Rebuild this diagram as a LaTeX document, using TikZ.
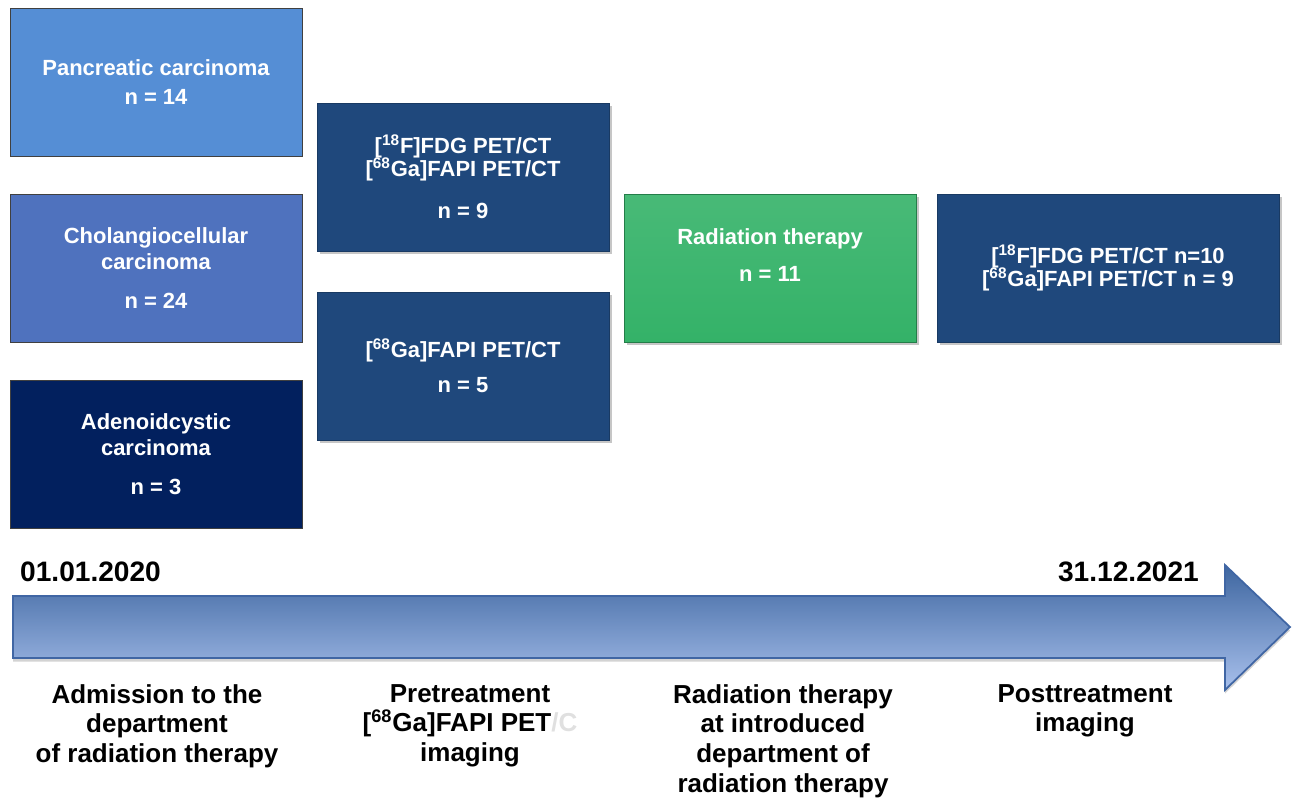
\documentclass[tikz,border=0pt]{standalone}
\usepackage{fontspec}
\setmainfont{Liberation Sans}
\usetikzlibrary{positioning}
\usetikzlibrary{shadows}

\definecolor{pancblue}{RGB}{85,142,213}
\definecolor{cholblue}{RGB}{79,114,190}
\definecolor{adenblue}{RGB}{2,32,94}
\definecolor{petblue}{RGB}{31,72,124}
\definecolor{rtgreen}{RGB}{52,178,104}
\definecolor{arrowtop}{RGB}{62,102,160}
\definecolor{arrowbot}{RGB}{168,192,236}
\definecolor{arrowline}{RGB}{64,102,164}

\tikzset{
  box/.style={rectangle,draw=black!75,line width=0.5pt,text=white,align=center,
    minimum width=5.84cm,minimum height=2.96cm,inner sep=0pt,
    font=\fontsize{12.5}{15}\selectfont\bfseries},
  petbox/.style={box,fill=petblue,draw=petblue!80!black,
    drop shadow={shadow xshift=1.5pt,shadow yshift=-1.5pt,opacity=0.45}},
  phase/.style={anchor=north,align=center,font=\fontsize{14.8}{17}\selectfont\bfseries},
  date/.style={font=\fontsize{16}{19}\selectfont\bfseries}
}

\begin{document}
\begin{tikzpicture}[x=0.02cm,y=-0.02cm]
\useasboundingbox (0,0) rectangle (1295,798);

\node[box,fill=pancblue](panc) at (156,82){Pancreatic carcinoma\\[2pt]n = 14};
\node[box,fill=cholblue](chol) at (156,268){Cholangiocellular\\carcinoma\\[7pt]n = 24};
\node[box,fill=adenblue](aden) at (156,454){Adenoidcystic\\carcinoma\\[7pt]n = 3};

\node[petbox](both) at (463,177){[\textsuperscript{18}F]FDG PET/CT\\[-2pt][\textsuperscript{68}Ga]FAPI PET/CT\\[9pt]n = 9};
\node[petbox](fapi) at (463,366){[\textsuperscript{68}Ga]FAPI PET/CT\\[5pt]n = 5};
\node[box,top color=rtgreen!90!white,bottom color=rtgreen,draw=rtgreen!70!black,
  drop shadow={shadow xshift=1.5pt,shadow yshift=-1.5pt,opacity=0.45}](rt) at (770,268){Radiation therapy\\[6pt]n = 11\\~};
\node[petbox,minimum width=6.84cm](post) at (1108,268){[\textsuperscript{18}F]FDG PET/CT n=10\\[-2pt][\textsuperscript{68}Ga]FAPI PET/CT n = 9};

\draw[arrowline,line width=1pt,top color=arrowtop,bottom color=arrowbot,
  drop shadow={shadow xshift=0pt,shadow yshift=-2pt,opacity=0.35}]
  (13,596)--(1225,596)--(1225,565)--(1290,627)--(1225,690)--(1225,658)--(13,658)--cycle;

\node[date,anchor=west](start) at (14,572){01.01.2020};
\node[date,anchor=east](end) at (1205,572){31.12.2021};

\node[phase](adm) at (157,678){Admission to the\\department\\of radiation therapy};
\node[phase](pre) at (470,678){Pretreatment\\{}[\textsuperscript{68}Ga]FAPI PET{\color{black!12}/C}\\imaging};
\node[phase](rad) at (783,678){Radiation therapy\\at introduced\\department of\\radiation therapy};
\node[phase](pst) at (1085,678){Posttreatment\\imaging};
\end{tikzpicture}
\end{document}
